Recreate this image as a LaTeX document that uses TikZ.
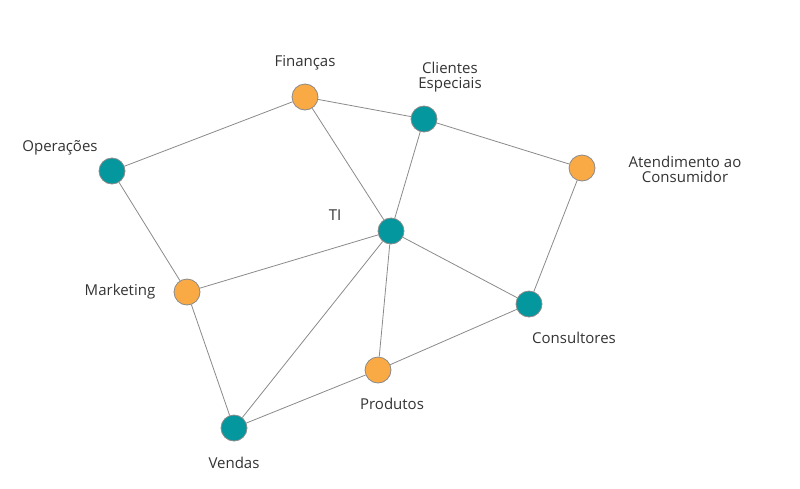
\documentclass[tikz,border=0pt]{standalone}
\usepackage{fontspec}
\setmainfont{Open Sans}
\definecolor{org}{HTML}{F9AA45}
\definecolor{tea}{HTML}{05979E}
\definecolor{edg}{HTML}{8A8A8A}
\begin{document}
\begin{tikzpicture}[x=1pt,y=-1pt,
  dot/.style={circle,draw=edg,line width=0.8pt,minimum size=26pt,inner sep=0pt},
  o/.style={dot,fill=org}, t/.style={dot,fill=tea},
  lab/.style={font=\fontsize{15}{18}\selectfont,text=black!80,align=center},
  every path/.style={}, e/.style={draw=edg,line width=0.8pt}]
\useasboundingbox (0,0) rectangle (800,488);
\node[o] (fin) at (305,97) {};
\node[t] (cli) at (424,119) {};
\node[o] (ate) at (582,168) {};
\node[t] (ope) at (112,171) {};
\node[t] (ti) at (391,231) {};
\node[o] (mkt) at (187,292) {};
\node[t] (con) at (529,304) {};
\node[o] (pro) at (378,370) {};
\node[t] (ven) at (234,428) {};
\node[lab] (lfin) at (305,63) {Finanças};
\node[lab] (lcli) at (450,77) {Clientes\\[-3pt]Especiais};
\node[lab] (late) at (685,169) {Atendimento ao\\[-3pt]Consumidor};
\node[lab] (lope) at (60,148) {Operações};
\node[lab] (lti) at (335,215) {TI};
\node[lab] (lmkt) at (120,292) {Marketing};
\node[lab] (lcon) at (574,338) {Consultores};
\node[lab] (lpro) at (392,404) {Produtos};
\node[lab] (lven) at (234,463) {Vendas};
\foreach \a/\b in {ope/fin,fin/cli,cli/ate,fin/ti,cli/ti,ate/con,ope/mkt,mkt/ti,ti/con,ti/pro,ti/ven,mkt/ven,ven/pro,pro/con}
  \draw[e] (\a) -- (\b);
\end{tikzpicture}
\end{document}
